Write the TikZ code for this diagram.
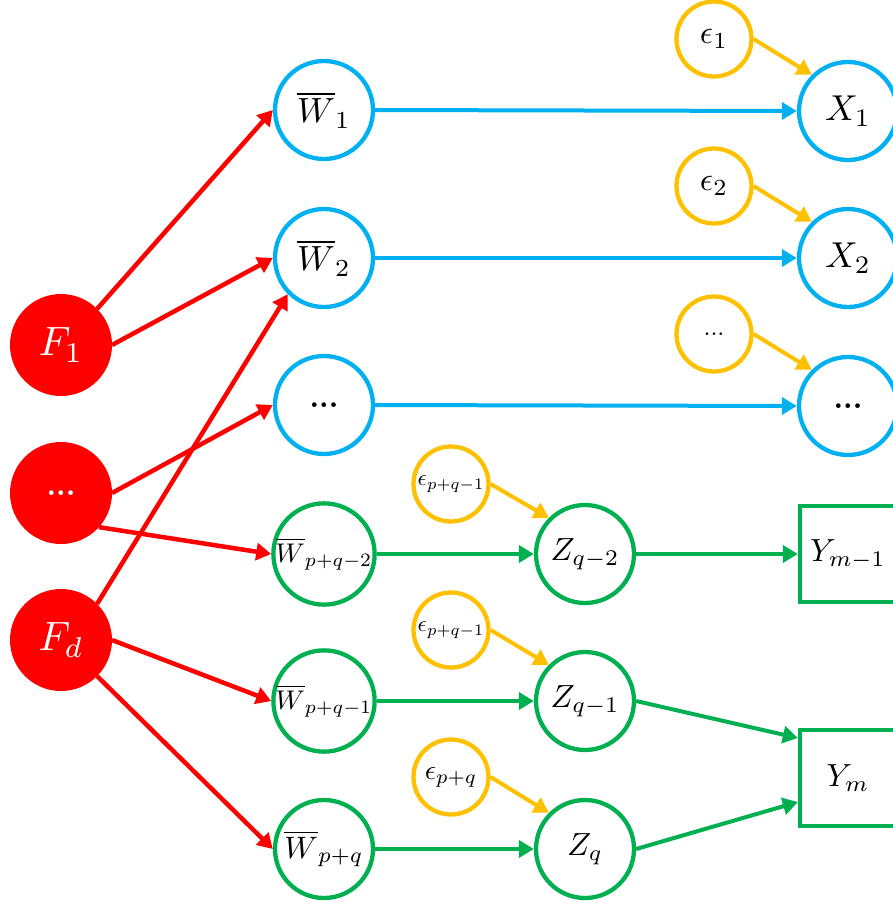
\documentclass[tikz,border=0pt]{standalone}
\usepackage{graphicx}
\usetikzlibrary{arrows.meta}
\definecolor{cred}{HTML}{FF0000}
\definecolor{cblue}{HTML}{00B0F0}
\definecolor{cgreen}{HTML}{00B050}
\definecolor{cyel}{HTML}{FFC000}
\newcommand{\lbl}[2]{\scalebox{#1}{#2}}
\begin{document}
\begin{tikzpicture}[x=1pt,y=-1pt,
  redn/.style={circle,fill=cred,draw=cred,line width=4pt,minimum size=98pt,inner sep=0pt,text=white},
  bluen/.style={circle,draw=cblue,line width=4.3pt,minimum size=98pt,inner sep=0pt},
  greenn/.style={circle,draw=cgreen,line width=4.3pt,minimum size=98pt,inner sep=0pt},
  yeln/.style={circle,draw=cyel,line width=4.3pt,minimum size=75pt,inner sep=0pt},
  sqn/.style={rectangle,draw=cgreen,line width=4.3pt,minimum size=96pt,inner sep=0pt},
  arr/.style={line width=4pt,-{Triangle[length=15pt,width=17pt]}},
  rarr/.style={arr,line width=4.5pt,cred},
  barr/.style={arr,cblue},
  garr/.style={arr,cgreen},
  yarr/.style={arr,cyel},
]
\useasboundingbox (0,0) rectangle (893,903);
% red factor nodes
\node[redn] (F1) at (61,345) {\lbl{4.1}{$F_1$}};
\node[redn] (R2) at (61,493) {\lbl{3.0}{\textbf{...}}};
\node[redn] (Fd) at (61,640) {\lbl{4.1}{$F_d$}};
% W column
\node[bluen] (W1) at (324,110) {\lbl{3.5}{$\overline{W}_1$}};
\node[bluen] (W2) at (324,258) {\lbl{3.5}{$\overline{W}_2$}};
\node[bluen] (W3) at (324,405) {\lbl{3.0}{\textbf{...}}};
\node[greenn] (Wa) at (324,554) {\lbl{2.7}{$\overline{W}_{p+q-2}$}};
\node[greenn] (Wb) at (324,701) {\lbl{2.7}{$\overline{W}_{p+q-1}$}};
\node[greenn] (Wc) at (324,849) {\lbl{3.1}{$\overline{W}_{p+q}$}};
% X column
\node[bluen] (X1) at (848,111) {\lbl{3.6}{$X_1$}};
\node[bluen] (X2) at (848,258) {\lbl{3.6}{$X_2$}};
\node[bluen] (X3) at (848,406) {\lbl{3.0}{\textbf{...}}};
% Z column
\node[greenn] (Za) at (585,554) {\lbl{3.2}{$Z_{q-2}$}};
\node[greenn] (Zb) at (585,701) {\lbl{3.2}{$Z_{q-1}$}};
\node[greenn] (Zc) at (585,849) {\lbl{3.2}{$Z_q$}};
% Y squares
\node[sqn] (Ya) at (848,554) {\lbl{3.2}{$Y_{m-1}$}};
\node[sqn] (Yb) at (848,778) {\lbl{3.2}{$Y_m$}};
% noise nodes
\node[yeln] (E1) at (714,39) {\lbl{3.3}{$\epsilon_1$}};
\node[yeln] (E2) at (714,186) {\lbl{3.3}{$\epsilon_2$}};
\node[yeln] (E3) at (714,334) {\lbl{2.5}{...}};
\node[yeln] (Ea) at (451,484) {\lbl{2.3}{$\epsilon_{p+q-1}$}};
\node[yeln] (Eb) at (451,630) {\lbl{2.3}{$\epsilon_{p+q-1}$}};
\node[yeln] (Ec) at (451,777) {\lbl{2.8}{$\epsilon_{p+q}$}};
% red arrows
\draw[rarr] (F1.45) -- (W1.west);
\draw[rarr] (F1.east) -- (W2.west);
\draw[rarr] (R2.east) -- (W3.west);
\draw[rarr] (R2.-42) -- (Wa.west);
\draw[rarr] (Fd.45) -- (W2.225);
\draw[rarr] (Fd.east) -- (Wb.west);
\draw[rarr] (Fd.-45) -- (Wc.west);
% blue arrows
\draw[barr] (W1.east) -- (X1.west);
\draw[barr] (W2.east) -- (X2.west);
\draw[barr] (W3.east) -- (X3.west);
% green arrows
\draw[garr] (Wa.east) -- (Za.west);
\draw[garr] (Wb.east) -- (Zb.west);
\draw[garr] (Wc.east) -- (Zc.west);
\draw[garr] (Za.east) -- (Ya.west);
\draw[garr] (Zb.east) -- ([yshift=40pt]Yb.west);
\draw[garr] (Zc.east) -- ([yshift=-24pt]Yb.west);
% yellow arrows
\draw[yarr] (E1.east) -- (X1.135);
\draw[yarr] (E2.east) -- (X2.135);
\draw[yarr] (E3.east) -- (X3.135);
\draw[yarr] (Ea.east) -- (Za.135);
\draw[yarr] (Eb.east) -- (Zb.135);
\draw[yarr] (Ec.east) -- (Zc.135);
\end{tikzpicture}
\end{document}
